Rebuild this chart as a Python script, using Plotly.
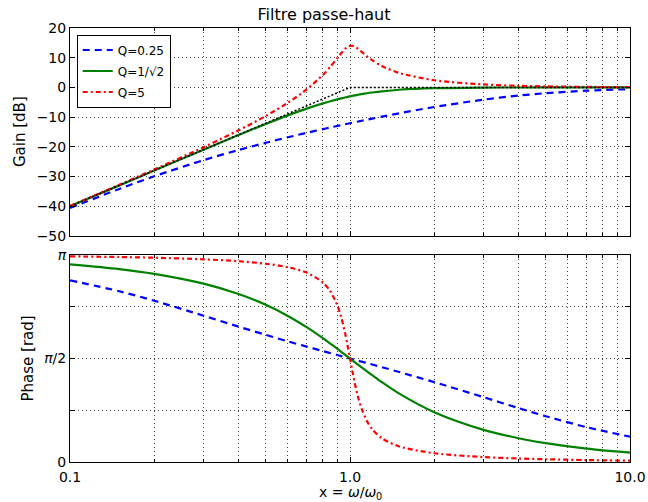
import math
import plotly.graph_objects as go

# x = omega/omega0 sample positions
x_vals = [0.1, 0.15, 0.2, 0.3, 0.4, 0.5, 0.6, 0.7, 0.8, 0.85, 0.9, 0.93, 0.96, 0.98, 1.0,
          1.02, 1.04, 1.07, 1.1, 1.15, 1.2, 1.3, 1.5, 2, 3, 4, 5, 7, 10]

gain_q025 = [-40.57, -34.15, -29.89, -24.47, -21.06, -18.63, -16.78, -15.28, -14.03, -13.48,
             -12.97, -12.68, -12.40, -12.22, -12.04, -11.87, -11.70, -11.46, -11.22, -10.85,
             -10.49, -9.84, -8.70, -6.59, -4.10, -2.74, -1.94, -1.09, -0.57]
gain_q071 = [-40.00, -32.96, -27.97, -20.95, -16.03, -12.30, -9.40, -7.13, -5.37, -4.65,
             -4.02, -3.69, -3.38, -3.19, -3.01, -2.84, -2.68, -2.46, -2.26, -1.96,
             -1.71, -1.30, -0.78, -0.26, -0.05, -0.02, -0.01, 0.00, 0.00]
gain_q5 = [-39.91, -32.76, -27.61, -20.11, -14.44, -9.62, -5.15, -0.66, 4.21, 6.93,
           9.81, 11.51, 12.96, 13.63, 13.98, 13.98, 13.70, 12.93, 11.99, 10.47,
           9.17, 7.20, 4.86, 2.42, 1.00, 0.55, 0.35, 0.18, 0.09]

phase_q025 = [2.757, 2.591, 2.447, 2.220, 2.054, 1.930, 1.831, 1.751, 1.683, 1.652,
              1.624, 1.607, 1.591, 1.581, 1.571, 1.561, 1.551, 1.537, 1.523, 1.501,
              1.479, 1.439, 1.365, 1.212, 0.983, 0.818, 0.695, 0.528, 0.384]
phase_q071 = [3.000, 2.928, 2.855, 2.706, 2.549, 2.386, 2.217, 2.046, 1.879, 1.798,
              1.719, 1.673, 1.629, 1.599, 1.571, 1.543, 1.515, 1.475, 1.437, 1.375,
              1.318, 1.212, 1.038, 0.756, 0.488, 0.361, 0.287, 0.203, 0.142]
phase_q5 = [3.121, 3.111, 3.100, 3.076, 3.047, 3.009, 2.956, 2.874, 2.723, 2.592,
            2.384, 2.199, 1.959, 1.770, 1.571, 1.375, 1.197, 0.976, 0.809, 0.620,
            0.499, 0.360, 0.236, 0.133, 0.075, 0.053, 0.042, 0.029, 0.020]

# asymptote of the gain
asym_x = [0.1, 1.0, 10.0]
asym_y = [-40, 0, 0]

series_names = ["Q=0.25", "Q=1/√2", "Q=5"]
series_colors = ["#0000ff", "#008000", "#ff0000"]
series_dash = ["7px,5px", "solid", "5px,3px,2px,3px"]

gain_tick_vals = [20, 10, 0, -10, -20, -30, -40, -50]
phase_tick_vals = [0, math.pi / 2, math.pi]
phase_tick_text = ["0", "<i>π</i>/2", "<i>π</i>"]
phase_minor_vals = [math.pi / 4, 3 * math.pi / 4]
x_tick_vals = [0.1, 1.0, 10.0]
x_tick_text = ["0.1", "1.0", "10.0"]
x_minor_vals = [0.2, 0.3, 0.4, 0.5, 0.6, 0.7, 0.8, 0.9, 2, 3, 4, 5, 6, 7, 8, 9]

FONT = "DejaVu Sans, Arial, sans-serif"

fig = go.Figure()
gains = [gain_q025, gain_q071, gain_q5]
phases = [phase_q025, phase_q071, phase_q5]
for name, col, dash, g, p in zip(series_names, series_colors, series_dash, gains, phases):
    fig.add_trace(go.Scatter(x=x_vals, y=g, mode="lines", name=name, legendgroup=name,
                             line=dict(color=col, width=2.2, dash=dash, shape="spline", smoothing=0.8),
                             xaxis="x", yaxis="y"))
    fig.add_trace(go.Scatter(x=x_vals, y=p, mode="lines", name=name, legendgroup=name,
                             showlegend=False,
                             line=dict(color=col, width=2.2, dash=dash, shape="spline", smoothing=0.8),
                             xaxis="x2", yaxis="y2"))
fig.add_trace(go.Scatter(x=asym_x, y=asym_y, mode="lines", showlegend=False,
                         line=dict(color="black", width=1.5, dash="2px,2px"),
                         xaxis="x", yaxis="y"))

grid_col = "rgba(0,0,0,0.75)"
common_x = dict(type="log", range=[-1, 1], showline=True, linecolor="black", linewidth=1,
                mirror="ticks", ticks="inside", ticklen=5, tickcolor="black",
                showgrid=True, gridcolor=grid_col, griddash="1px,3px", gridwidth=1,
                tickmode="array", tickvals=x_tick_vals, ticktext=x_tick_text, zeroline=False,
                automargin=False, ticklabelstandoff=2,
                minor=dict(tickmode="array", tickvals=x_minor_vals, ticks="inside", ticklen=3,
                           tickcolor="black", showgrid=True,
                           gridcolor=grid_col, griddash="1px,3px", gridwidth=1))
common_y = dict(showline=True, linecolor="black", linewidth=1, mirror="ticks",
                ticks="inside", ticklen=5, tickcolor="black", showgrid=True,
                gridcolor=grid_col, griddash="1px,3px", gridwidth=1, zeroline=False,
                automargin=False)

fig.update_layout(
    width=648, height=502,
    margin=dict(l=70, r=18, t=28, b=40),
    paper_bgcolor="white", plot_bgcolor="white",
    font=dict(family=FONT, size=14, color="black"),
    title=dict(text="Filtre passe-haut", x=0.5, xanchor="center", y=0.972, yanchor="middle",
               font=dict(size=16)),
    xaxis=dict(common_x, domain=[0, 1], anchor="y", matches="x2", showticklabels=False),
    yaxis=dict(common_y, domain=[0.5207, 1], range=[-50, 20], tickmode="array",
               tickvals=gain_tick_vals),
    xaxis2=dict(common_x, domain=[0, 1], anchor="y2"),
    yaxis2=dict(common_y, domain=[0, 0.477], range=[0, math.pi], tickmode="array",
                tickvals=phase_tick_vals, ticktext=phase_tick_text,
                minor=dict(tickmode="array", tickvals=phase_minor_vals, ticks="inside",
                           ticklen=5, tickcolor="black", showgrid=True, gridcolor=grid_col,
                           griddash="1px,3px", gridwidth=1)),
    legend=dict(x=0.012, y=0.985, xanchor="left", yanchor="top", bgcolor="white",
                bordercolor="black", borderwidth=1, font=dict(size=12),
                itemwidth=30, tracegroupgap=2),
    showlegend=True,
    annotations=[
        dict(text="Gain [dB]", xref="paper", yref="paper", x=0, xshift=-50,
             y=(0.5207 + 1) / 2, textangle=-90, showarrow=False,
             xanchor="center", yanchor="middle", font=dict(size=15)),
        dict(text="Phase [rad]", xref="paper", yref="paper", x=0, xshift=-42,
             y=0.477 / 2, textangle=-90, showarrow=False,
             xanchor="center", yanchor="middle", font=dict(size=15)),
        dict(text="x = <i>ω</i>/<i>ω</i><sub>0</sub>", xref="paper", yref="paper",
             x=0.5, y=0, yshift=-31, showarrow=False, xanchor="center", yanchor="middle",
             font=dict(size=14)),
    ],
)

fig.write_html("out.html")
